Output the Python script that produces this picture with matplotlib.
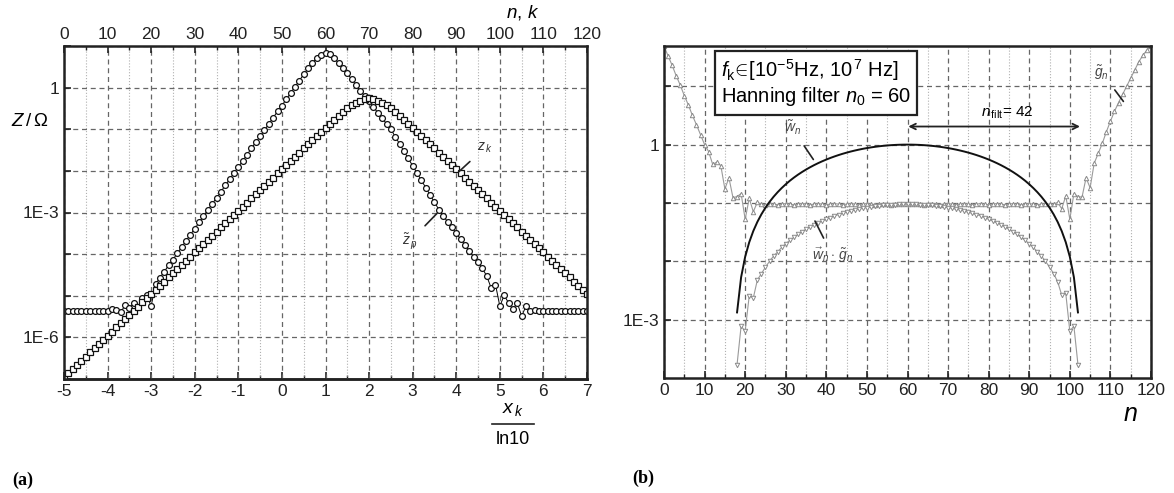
import numpy as np
import matplotlib
matplotlib.use("Agg")
import matplotlib.pyplot as plt
from matplotlib.ticker import FixedLocator, FuncFormatter, MultipleLocator
from matplotlib.lines import Line2D

plt.rcParams['font.family'] = ['Liberation Sans', 'DejaVu Sans']
plt.rcParams['mathtext.fontset'] = 'custom'
plt.rcParams['mathtext.rm'] = 'Liberation Sans'
plt.rcParams['mathtext.it'] = 'Liberation Sans:italic'
plt.rcParams['axes.unicode_minus'] = False

# ---- data (log10 values) ----
n = list(range(0, 121))

# left plot: z_k (squares)
log_zk = [-6.96, -6.86, -6.76, -6.66, -6.56, -6.46, -6.36, -6.26, -6.16, -6.06,
          -5.96, -5.86, -5.76, -5.66, -5.56, -5.46, -5.36, -5.26, -5.16, -5.06,
          -4.96, -4.86, -4.76, -4.66, -4.56, -4.46, -4.36, -4.26, -4.16, -4.06,
          -3.96, -3.86, -3.76, -3.66, -3.56, -3.46, -3.36, -3.26, -3.16, -3.06,
          -2.96, -2.86, -2.76, -2.66, -2.56, -2.46, -2.36, -2.26, -2.16, -2.06,
          -1.96, -1.86, -1.76, -1.66, -1.56, -1.46, -1.36, -1.26, -1.16, -1.06,
          -0.96, -0.87, -0.77, -0.68, -0.59, -0.50, -0.42, -0.36, -0.31, -0.27,
          -0.26, -0.27, -0.31, -0.36, -0.42, -0.50, -0.59, -0.68, -0.77, -0.87,
          -0.96, -1.06, -1.16, -1.26, -1.36, -1.46, -1.56, -1.66, -1.76, -1.86,
          -1.96, -2.06, -2.16, -2.26, -2.36, -2.46, -2.56, -2.66, -2.76, -2.86,
          -2.96, -3.06, -3.16, -3.26, -3.36, -3.46, -3.56, -3.66, -3.76, -3.86,
          -3.96, -4.06, -4.16, -4.26, -4.36, -4.46, -4.56, -4.66, -4.76, -4.86,
          -4.96]

# left plot: z~_p (circles)
log_zp = [-5.37, -5.37, -5.37, -5.37, -5.37, -5.37, -5.37, -5.37, -5.37, -5.37,
          -5.37, -5.33, -5.34, -5.40, -5.23, -5.30, -5.17, -5.27, -5.05, -4.99,
          -5.25, -4.72, -4.57, -4.42, -4.27, -4.13, -3.98, -3.83, -3.68, -3.53,
          -3.39, -3.24, -3.09, -2.94, -2.79, -2.65, -2.50, -2.35, -2.20, -2.05,
          -1.91, -1.76, -1.61, -1.46, -1.31, -1.17, -1.02, -0.87, -0.72, -0.57,
          -0.43, -0.28, -0.13, 0.02, 0.17, 0.32, 0.46, 0.60, 0.71, 0.79,
          0.83, 0.80, 0.71, 0.59, 0.46, 0.34, 0.20, 0.06, -0.08, -0.20,
          -0.33, -0.47, -0.60, -0.73, -0.87, -1.00, -1.18, -1.35, -1.53, -1.70,
          -1.88, -2.05, -2.23, -2.40, -2.58, -2.75, -2.93, -3.08, -3.22, -3.36,
          -3.50, -3.64, -3.78, -3.92, -4.06, -4.20, -4.34, -4.53, -4.81, -4.73,
          -5.25, -4.99, -5.17, -5.33, -5.17, -5.49, -5.25, -5.37, -5.34, -5.37,
          -5.37, -5.37, -5.37, -5.37, -5.37, -5.37, -5.37, -5.37, -5.37, -5.37,
          -5.37]

# right plot: g~_n (up triangles)
log_g = [1.69, 1.52, 1.36, 1.18, 1.02, 0.84, 0.68, 0.50, 0.34, 0.17,
         0.00, -0.12, -0.34, -0.30, -0.36, -0.76, -0.57, -0.91, -0.89, -0.84,
         -1.28, -0.92, -1.15, -0.99, -1.02, -1.03, -1.01, -1.02, -1.03, -1.02,
         -1.01, -1.02, -1.03, -1.02, -1.01, -1.02, -1.03, -1.02, -1.01, -1.02,
         -1.03, -1.02, -1.01, -1.02, -1.03, -1.02, -1.01, -1.02, -1.03, -1.02,
         -1.01, -1.02, -1.03, -1.02, -1.01, -1.02, -1.03, -1.02, -1.01, -1.02,
         -1.02, -1.02, -1.01, -1.02, -1.03, -1.02, -1.01, -1.02, -1.03, -1.02,
         -1.01, -1.02, -1.03, -1.02, -1.01, -1.02, -1.03, -1.02, -1.01, -1.02,
         -1.03, -1.02, -1.01, -1.02, -1.03, -1.02, -1.01, -1.02, -1.03, -1.02,
         -1.01, -1.02, -1.03, -1.02, -1.01, -1.02, -1.02, -0.99, -1.10, -0.88,
         -1.28, -0.84, -0.89, -0.90, -0.57, -0.74, -0.32, -0.15, 0.02, 0.22,
         0.40, 0.57, 0.72, 0.86, 1.00, 1.14, 1.28, 1.42, 1.53, 1.62,
         1.69]

# right plot: Hanning window w~_n, n = 18..102
n_w = list(range(18, 103))
w = [0.00133, 0.00533, 0.01196, 0.02120, 0.03299, 0.04727, 0.06396, 0.08298, 0.10424, 0.12761,
     0.15293, 0.18016, 0.20907, 0.23987, 0.27169, 0.30470, 0.33877, 0.37368, 0.40931, 0.44540,
     0.48179, 0.51833, 0.55471, 0.59085, 0.62647, 0.66144, 0.69554, 0.72858, 0.76047, 0.79089,
     0.81986, 0.84701, 0.87236, 0.89573, 0.91700, 0.93604, 0.95273, 0.96700, 0.97880, 0.98804,
     0.99467, 0.99867, 1.0, 0.99867, 0.99467, 0.98804, 0.97880, 0.96700, 0.95273, 0.93604,
     0.91700, 0.89573, 0.87236, 0.84701, 0.81986, 0.79089, 0.76047, 0.72858, 0.69554, 0.66144,
     0.62647, 0.59085, 0.55471, 0.51833, 0.48179, 0.44540, 0.40931, 0.37368, 0.33877, 0.30470,
     0.27169, 0.23987, 0.20907, 0.18016, 0.15293, 0.12761, 0.10424, 0.08298, 0.06396, 0.04727,
     0.03299, 0.02120, 0.01196, 0.00533, 0.00133]

# right plot: w~_n * g~_n (down triangles), n = 18..102
log_wg = [-3.77, -3.11, -3.20, -2.59, -2.63, -2.32, -2.21, -2.10, -2.00, -1.91,
          -1.84, -1.76, -1.70, -1.64, -1.59, -1.54, -1.49, -1.45, -1.41, -1.37,
          -1.34, -1.31, -1.28, -1.25, -1.22, -1.20, -1.18, -1.16, -1.14, -1.12,
          -1.11, -1.09, -1.08, -1.07, -1.06, -1.05, -1.04, -1.03, -1.03, -1.03,
          -1.02, -1.02, -1.02, -1.02, -1.02, -1.03, -1.03, -1.03, -1.04, -1.05,
          -1.06, -1.07, -1.08, -1.09, -1.11, -1.12, -1.14, -1.16, -1.18, -1.20,
          -1.22, -1.25, -1.28, -1.31, -1.34, -1.37, -1.41, -1.45, -1.49, -1.54,
          -1.59, -1.64, -1.70, -1.76, -1.84, -1.91, -2.00, -2.10, -2.21, -2.35,
          -2.58, -2.55, -3.20, -3.11, -3.77]

zk = 10 ** np.array(log_zk)
zp = 10 ** np.array(log_zp)
g = 10 ** np.array(log_g)
wg = 10 ** np.array(log_wg)

fig = plt.figure(figsize=(11.74, 4.93), dpi=100)
W, H = 1174.0, 493.0

def pix_axes(x0, y0, x1, y1):
    return fig.add_axes([x0 / W, 1 - y1 / H, (x1 - x0) / W, (y1 - y0) / H])

def style_axes(ax):
    for s in ax.spines.values():
        s.set_linewidth(1.8)
        s.set_color('#222222')
    ax.grid(True, which='major', ls=(0, (4, 3)), color='#666666', lw=0.9)
    ax.grid(True, which='minor', axis='x', ls=':', color='#b0b0b0', lw=0.8)
    ax.tick_params(which='both', direction='in', labelsize=12.5, colors='#222222')
    ax.tick_params(which='major', length=5, width=1.2)
    ax.tick_params(which='minor', length=3, width=1.0)

def log_labels(shown):
    def f(v, pos):
        for val, lab in shown:
            if abs(np.log10(v) - np.log10(val)) < 1e-6:
                return lab
        return ''
    return FuncFormatter(f)

# ---- left plot (a) ----
ax1 = pix_axes(64, 46, 587, 379)
ax1.plot(n, zp, '-', color='k', lw=0.7, marker='o', ms=4.2, mfc='white', mec='#111111', mew=0.9)
ax1.plot(n, zk, '-', color='k', lw=0.7, marker='s', ms=3.8, mfc='white', mec='#111111', mew=0.9)
ax1.set_yscale('log')
ax1.set_xlim(0, 120)
ax1.set_ylim(1e-7, 10)
ax1.yaxis.set_major_locator(FixedLocator([10.0 ** k for k in range(-7, 2)]))
ax1.yaxis.set_minor_locator(FixedLocator([]))
ax1.yaxis.set_major_formatter(log_labels([(1, '1'), (1e-3, '1E-3'), (1e-6, '1E-6')]))
ax1.xaxis.set_major_locator(MultipleLocator(10))
ax1.xaxis.set_minor_locator(MultipleLocator(5))
ax1.xaxis.tick_top()
style_axes(ax1)
ax1.tick_params(axis='x', which='both', top=True, bottom=False, pad=3)
sec = ax1.secondary_xaxis('bottom', functions=(lambda v: v / 10.0 - 5, lambda v: (v + 5) * 10.0))
sec.xaxis.set_major_locator(MultipleLocator(1))
sec.xaxis.set_minor_locator(MultipleLocator(0.5))
sec.tick_params(which='both', direction='in', labelsize=12.5, colors='#222222')
sec.tick_params(which='major', length=5, width=1.2)
sec.tick_params(which='minor', length=3, width=1.0)
sec.spines['bottom'].set_linewidth(1.8)
sec.spines['bottom'].set_color('#222222')

ax1.annotate(r'$z_{\,k}$', xy=(90.6, 10 ** -2.02), xytext=(96.5, 10 ** -1.45),
             fontsize=10, color='#333333', ha='center', va='center',
             arrowprops=dict(arrowstyle='-', color='#222222', lw=1.2, shrinkA=4, shrinkB=0))
ax1.annotate(r'$\tilde{z}_{\,p}$', xy=(85.6, 10 ** -3.02), xytext=(79.3, 10 ** -3.7),
             fontsize=10, color='#333333', ha='center', va='center',
             arrowprops=dict(arrowstyle='-', color='#222222', lw=1.2, shrinkA=5, shrinkB=0))

fig.text(30 / W, 1 - 122 / H, r'$Z\,/\,\Omega$', fontsize=13.5, ha='center', va='center')
fig.text(523 / W, 1 - 13 / H, r'$n,\,k$', fontsize=13.5, ha='center', va='center')
fig.text(513 / W, 1 - 410 / H, r'$x_{\,k}$', fontsize=14, ha='center', va='center')
fig.add_artist(Line2D([492 / W, 534 / W], [1 - 424 / H, 1 - 424 / H], color='#222222', lw=1.2))
fig.text(513 / W, 1 - 439 / H, 'ln10', fontsize=13, ha='center', va='center')
fig.text(23 / W, 1 - 480 / H, '(a)', fontsize=13, fontweight='bold', family='Liberation Serif',
         ha='center', va='center')

# ---- right plot (b) ----
ax2 = pix_axes(664, 46, 1151, 378)
ax2.plot(n, g, '-', color='#9a9a9a', lw=0.8, marker='^', ms=3.2, mfc='white', mec='#8a8a8a', mew=0.7)
ax2.plot(n_w, wg, '-', color='#9a9a9a', lw=0.8, marker='v', ms=3.2, mfc='white', mec='#8a8a8a', mew=0.7)
ax2.plot(n_w, w, '-', color='#111111', lw=1.4)
ax2.set_yscale('log')
ax2.set_xlim(0, 120)
ax2.set_ylim(1e-4, 10 ** 1.69)
ax2.yaxis.set_major_locator(FixedLocator([10.0 ** k for k in range(-3, 2)]))
ax2.yaxis.set_minor_locator(FixedLocator([]))
ax2.yaxis.set_major_formatter(log_labels([(1, '1'), (1e-3, '1E-3')]))
ax2.xaxis.set_major_locator(MultipleLocator(10))
ax2.xaxis.set_minor_locator(MultipleLocator(5))
style_axes(ax2)

ax2.text(14.0, 10 ** 1.06, r'$f_{\mathrm{k}}\!\in\!$[10$^{-5}$Hz, 10$^{\,7}$ Hz]' + '\n' +
         r'Hanning filter $n_0$ = 60', fontsize=14.5, ha='left', va='center', linespacing=1.15,
         bbox=dict(boxstyle='square,pad=0.3', fc='white', ec='#222222', lw=1.6))
ax2.annotate('', xy=(60.2, 10 ** 0.31), xytext=(102.5, 10 ** 0.31),
             arrowprops=dict(arrowstyle='<->', color='#222222', lw=1.3, shrinkA=0, shrinkB=0))
ax2.text(84.5, 10 ** 0.55, r'$n_{\,\mathrm{filt}}$= 42', fontsize=11, ha='center', va='center')
ax2.annotate(r'$\tilde{g}_{n}$', xy=(113.2, 10 ** 0.74), xytext=(107.8, 10 ** 1.24),
             fontsize=10, color='#444444', ha='center', va='center',
             arrowprops=dict(arrowstyle='-', color='#222222', lw=1.2, shrinkA=5, shrinkB=0))
ax2.annotate(r'$\tilde{w}_{n}$', xy=(36.8, 10 ** -0.255), xytext=(31.6, 10 ** 0.28),
             fontsize=10, color='#444444', ha='center', va='center',
             arrowprops=dict(arrowstyle='-', color='#222222', lw=1.2, shrinkA=5, shrinkB=0))
ax2.annotate(r'$\vec{w}_{n}\cdot\,\tilde{g}_{n}$', xy=(37.2, 10 ** -1.31), xytext=(41.5, 10 ** -1.9),
             fontsize=10, color='#444444', ha='center', va='center',
             arrowprops=dict(arrowstyle='-', color='#222222', lw=1.2, shrinkA=4, shrinkB=0))

fig.text(1130 / W, 1 - 414 / H, r'$n$', fontsize=18, ha='center', va='center')
fig.text(643 / W, 1 - 478 / H, '(b)', fontsize=13, fontweight='bold', family='Liberation Serif',
         ha='center', va='center')

fig.savefig('out.png', dpi=100)
